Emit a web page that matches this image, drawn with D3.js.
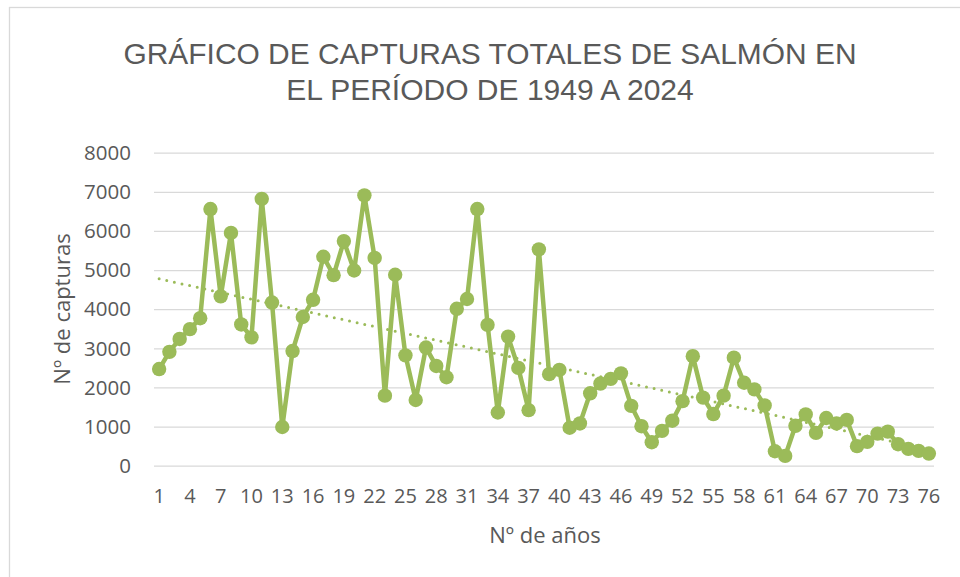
<!DOCTYPE html>
<meta charset="utf-8">
<head>
	<title>Capturas totales de salmón 1949-2024</title>
	<script src="https://cdn.jsdelivr.net/npm/d3@7"></script>
	<style>
		body { margin: 0; background: #fff; }
		text { font-family: "Open Sans", sans-serif; fill: #595959; }
		.grid line { stroke: #d9d9d9; stroke-width: 1.3; }
	</style>
</head>
<body>
<div id="chart"></div>
<script>
	// datos
	var years = d3.range(1, 77);
	var captures = [
		2470, 2910, 3240, 3490, 3770, 6560, 4330, 5950, 3610, 3280,
		6820, 4170, 990, 2930, 3800, 4240, 5340, 4870, 5740, 4990,
		6910, 5310, 1790, 4880, 2820, 1680, 3020, 2550, 2260, 4010,
		4260, 6560, 3600, 1360, 3300, 2500, 1420, 5530, 2340, 2450,
		970, 1080, 1850, 2100, 2220, 2360, 1530, 1010, 600, 890,
		1150, 1650, 2800, 1740, 1320, 1790, 2760, 2120, 1950, 1540,
		370, 250, 1020, 1310, 840, 1220, 1080, 1170, 500, 610,
		820, 870, 550, 430, 380, 310
	];
	var yTicks = [0, 1000, 2000, 3000, 4000, 5000, 6000, 7000, 8000];
	var xTickLabels = years.filter(function (d) { return (d - 1) % 3 == 0; });
	var titleLines = ["GRÁFICO DE CAPTURAS TOTALES DE SALMÓN EN", "EL PERÍODO DE 1949 A 2024"];

	var w = 960, h = 577;
	var color = "#9bbb59";

	var svg = d3.select("#chart").append("svg")
		.attr("width", w).attr("height", h);

	// borde del area del grafico
	svg.append("rect")
		.attr("x", 9.5).attr("y", 7.5)
		.attr("width", 1000).attr("height", 700)
		.style("fill", "#fff")
		.style("stroke", "#d9d9d9")
		.style("stroke-width", 1.3);

	var x = d3.scalePoint()
		.domain(years)
		.range([154, 934])
		.padding(0.5);

	var y = d3.scaleLinear()
		.domain([0, 8000])
		.range([465.7, 152.7]);

	// lineas de cuadricula
	svg.append("g")
		.attr("class", "grid")
		.attr("transform", "translate(154,0)")
		.call(d3.axisLeft(y).tickValues(yTicks).tickSize(-780).tickFormat(""))
		.call(function (g) { g.select(".domain").remove(); });

	// etiquetas del eje y
	svg.append("g")
		.selectAll("text")
		.data(yTicks).enter()
		.append("text")
		.attr("x", 131)
		.attr("y", function (d) { return y(d); })
		.attr("dy", "0.35em")
		.attr("text-anchor", "end")
		.style("font-size", "20.5px")
		.text(function (d) { return d; });

	// etiquetas del eje x
	svg.append("g")
		.selectAll("text")
		.data(xTickLabels).enter()
		.append("text")
		.attr("x", function (d) { return x(d); })
		.attr("y", 503)
		.attr("text-anchor", "middle")
		.style("font-size", "20px")
		.text(function (d) { return d; });

	// linea de tendencia (lineal)
	var n = years.length;
	var mx = d3.mean(years), my = d3.mean(captures);
	var sxy = d3.sum(years, function (d, i) { return (d - mx) * (captures[i] - my); });
	var sxx = d3.sum(years, function (d) { return (d - mx) * (d - mx); });
	var slope = sxy / sxx, icpt = my - slope * mx;
	var trend = [years[0], years[n - 1]].map(function (d) { return [d, icpt + slope * d]; });

	var line = d3.line()
		.x(function (d) { return x(d[0]); })
		.y(function (d) { return y(d[1]); });

	var pts = years.map(function (d, i) { return [d, captures[i]]; });

	svg.append("path")
		.datum(pts)
		.attr("d", line)
		.style("fill", "none")
		.style("stroke", color)
		.style("stroke-width", 4.5)
		.style("stroke-linejoin", "round");

	svg.selectAll("circle")
		.data(pts).enter()
		.append("circle")
		.attr("cx", function (d) { return x(d[0]); })
		.attr("cy", function (d) { return y(d[1]); })
		.attr("r", 7.2)
		.style("fill", color);

	svg.append("path")
		.datum(trend)
		.attr("d", line)
		.style("fill", "none")
		.style("stroke", color)
		.style("stroke-width", 3)
		.style("stroke-linecap", "round")
		.style("stroke-dasharray", "0,7.8");

	// titulo (fuente con caja de linea mas baja para que las lineas no se pisen)
	var titleWidths = [733, 426];
	svg.append("g")
		.selectAll("text")
		.data(titleLines).enter()
		.append("text")
		.attr("x", 490)
		.attr("y", function (d, i) { return 64 + i * 36; })
		.attr("text-anchor", "middle")
		.style("font-family", "'Liberation Sans', Arial, sans-serif")
		.style("font-size", "30px")
		.text(function (d) { return d; })
		.each(function (d, i) {
			var len = this.getComputedTextLength();
			if (len > titleWidths[i]) {
				d3.select(this).attr("textLength", titleWidths[i]).attr("lengthAdjust", "spacingAndGlyphs");
			}
		});

	// titulos de ejes
	svg.append("text")
		.attr("x", 545)
		.attr("y", 543)
		.attr("text-anchor", "middle")
		.style("font-size", "22px")
		.text("Nº de años");

	svg.append("text")
		.attr("transform", "translate(70,309) rotate(-90)")
		.attr("text-anchor", "middle")
		.style("font-size", "22px")
		.text("Nº de capturas");
</script>
</body>
</html>
